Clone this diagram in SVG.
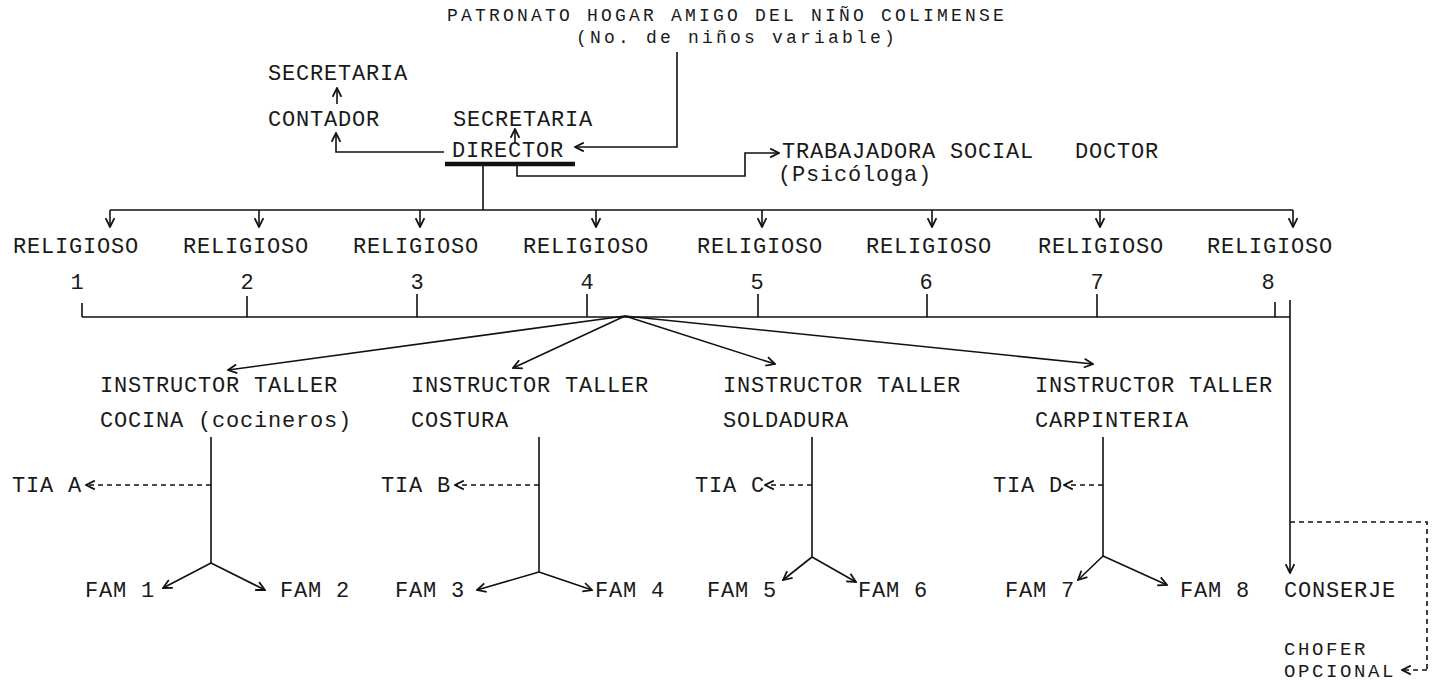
<svg xmlns="http://www.w3.org/2000/svg" width="1432" height="691" viewBox="0 0 1432 691">
<style>
text{font-family:"Liberation Mono","DejaVu Sans Mono",monospace;font-size:22px;letter-spacing:0.8px;fill:#1a1a1a}
.t{font-size:18px;letter-spacing:3.2px}
.s{font-size:19px;letter-spacing:2.6px}
.n{text-anchor:middle;letter-spacing:0}
.c{fill:none;stroke:#111;stroke-width:1.6}
.a{marker-end:url(#ah)}
.d{stroke-dasharray:5 4}
.u{stroke:#111;stroke-width:4.5;fill:none}
</style>
<defs>
<marker id="ah" viewBox="0 0 10 10" refX="9" refY="5" markerWidth="11" markerHeight="11" markerUnits="userSpaceOnUse" orient="auto">
<path d="M1,1 L9,5 L1,9" fill="none" stroke="#111" stroke-width="1.6"/>
</marker>
</defs>
<rect width="1432" height="691" fill="#fff"/>
<g id="patronato"><text class="t" x="447" y="21">PATRONATO HOGAR AMIGO DEL NIÑO COLIMENSE</text><text class="t" x="576" y="43">(No. de niños variable)</text></g>
<g id="secretaria1"><text x="268" y="80">SECRETARIA</text></g>
<g id="contador"><text x="268" y="126">CONTADOR</text></g>
<g id="secretaria2"><text x="453" y="126">SECRETARIA</text></g>
<g id="director"><text x="452" y="157">DIRECTOR</text><line class="u" x1="445" y1="164" x2="575" y2="164"/></g>
<g id="trabajadora"><text x="782" y="158">TRABAJADORA SOCIAL</text><text x="778" y="181">(Psicóloga)</text></g>
<g id="doctor"><text x="1075" y="158">DOCTOR</text></g>
<g id="religiosos">
<text x="13" y="253">RELIGIOSO</text><text x="183" y="253">RELIGIOSO</text><text x="353" y="253">RELIGIOSO</text><text x="523" y="253">RELIGIOSO</text><text x="697" y="253">RELIGIOSO</text><text x="866" y="253">RELIGIOSO</text><text x="1038" y="253">RELIGIOSO</text><text x="1207" y="253">RELIGIOSO</text>
<text class="n" x="77" y="289">1</text><text class="n" x="247" y="289">2</text><text class="n" x="417" y="289">3</text><text class="n" x="587" y="289">4</text><text class="n" x="757" y="289">5</text><text class="n" x="926" y="289">6</text><text class="n" x="1097" y="289">7</text><text class="n" x="1268" y="289">8</text>
</g>
<g id="talleres">
<text x="100" y="392">INSTRUCTOR TALLER</text><text x="100" y="427">COCINA (cocineros)</text>
<text x="411" y="392">INSTRUCTOR TALLER</text><text x="411" y="427">COSTURA</text>
<text x="723" y="392">INSTRUCTOR TALLER</text><text x="723" y="427">SOLDADURA</text>
<text x="1035" y="392">INSTRUCTOR TALLER</text><text x="1035" y="427">CARPINTERIA</text>
</g>
<g id="tias"><text x="12" y="492">TIA A</text><text x="381" y="492">TIA B</text><text x="695" y="492">TIA C</text><text x="993" y="492">TIA D</text></g>
<g id="familias"><text x="85" y="597">FAM 1</text><text x="280" y="597">FAM 2</text><text x="395" y="597">FAM 3</text><text x="595" y="597">FAM 4</text><text x="707" y="597">FAM 5</text><text x="858" y="597">FAM 6</text><text x="1005" y="597">FAM 7</text><text x="1180" y="597">FAM 8</text></g>
<g id="conserje"><text x="1284" y="597">CONSERJE</text></g>
<g id="chofer"><text class="s" x="1284" y="655">CHOFER</text><text class="s" x="1284" y="677">OPCIONAL</text></g>
<g id="connectors">
<path class="c a" d="M677,52 V147 H575"/>
<path class="c a" d="M444,152 H336 V133"/>
<path class="c a" d="M337,104 V88"/>
<path class="c a" d="M515,142 V129"/>
<path class="c a" d="M517,166 V176 H745 V153 H779"/>
<path class="c" d="M483,166 V210 M110,210 H1293"/>
<path class="c a" d="M110,210 V227"/><path class="c a" d="M259,210 V227"/><path class="c a" d="M420,210 V227"/><path class="c a" d="M596,210 V227"/><path class="c a" d="M762,210 V227"/><path class="c a" d="M932,210 V227"/><path class="c a" d="M1100,210 V227"/><path class="c a" d="M1293,210 V227"/>
<path class="c" d="M82,317 H1290 M82,303 V317 M247,296 V317 M417,294 V317 M587,294 V317 M758,294 V317 M927,294 V317 M1097,294 V317 M1275,302 V317"/>
<path class="c a" d="M625,316 L228,370"/><path class="c a" d="M625,316 L513,368"/><path class="c a" d="M625,316 L775,364"/><path class="c a" d="M625,316 L1093,364"/>
<path class="c a" d="M1290,300 V573"/>
<path class="c" d="M211,437 V563 M539,437 V572 M812,437 V557 M1103,437 V556"/>
<path class="c d a" d="M211,485 H86"/><path class="c d a" d="M539,485 H455"/><path class="c d a" d="M812,485 H765"/><path class="c d a" d="M1103,485 H1064"/>
<path class="c a" d="M211,563 L163,588"/><path class="c a" d="M211,563 L265,590"/>
<path class="c a" d="M539,572 L477,590"/><path class="c a" d="M539,572 L592,590"/>
<path class="c a" d="M812,557 L783,580"/><path class="c a" d="M812,557 L856,582"/>
<path class="c a" d="M1103,556 L1078,580"/><path class="c a" d="M1103,556 L1167,585"/>
<path class="c d" d="M1290,522 H1427 V670"/><path class="c d a" d="M1427,670 H1402"/>
</g>
</svg>
